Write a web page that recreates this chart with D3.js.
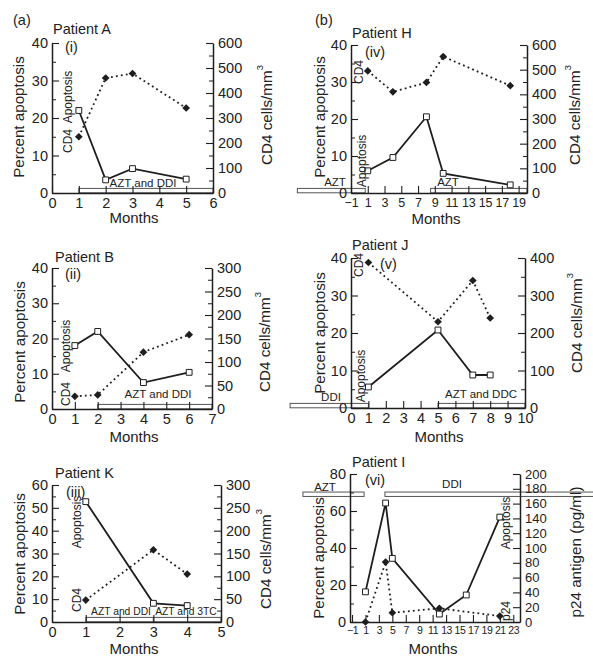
<!DOCTYPE html>
<html><head><meta charset="utf-8">
<script src="https://cdn.jsdelivr.net/npm/d3@7"></script>
<style>
body{margin:0;background:#fff}
svg{display:block}
text{font-family:"Liberation Sans",Arial,Helvetica,sans-serif;fill:#222}
</style>
</head><body>
<svg id="c" width="593" height="662"></svg>
<script>
// ---------- DATA ----------
// Patient A (i)
const monthsA = [1, 2, 3, 5];
const apoptosisA = [22, 3.5, 6.5, 3.7];
const cd4A = [225, 460, 478, 340];
const treatA = [{name: "AZT and DDI", start: 1, end: 6}];
// Patient B (ii)
const monthsB = [1, 2, 4, 6];
const apoptosisB = [18, 22, 7.5, 10.4];
const cd4B = [27, 30, 121, 158];
const treatB = [{name: "AZT and DDI", start: 2, end: 7}];
// Patient K (iii)
const monthsK = [1, 3, 4];
const apoptosisK = [52.7, 8.2, 7.2];
const cd4K = [48, 158, 105];
const treatK = [{name: "AZT and DDI", start: 1, end: 3}, {name: "AZT and 3TC", start: 3, end: 5}];
// Patient H (iv)
const monthsH = [1, 4, 8, 10, 18];
const apoptosisH = [6, 9.6, 20.6, 5.3, 2.2];
const cd4H = [495, 410, 448, 553, 435];
const treatH = [{name: "AZT", start: -7.4, end: 0.7}, {name: "AZT", start: 8.5, end: 20}];
// Patient J (v)
const monthsJ = [1, 5, 7, 8];
const apoptosisJ = [5.6, 20.8, 8.8, 8.8];
const cd4J = [388, 230, 340, 240];
const treatJ = [{name: "DDI", start: -3.5, end: 1}, {name: "AZT and DDC", start: 5, end: 10}];
// Patient I (vi)
const monthsIApop = [1, 4, 5, 12, 16, 21];
const apoptosisI = [16.3, 64.3, 34.4, 4.3, 14.6, 56.7];
const monthsIP24 = [1, 4, 5, 12, 21];
const p24I = [0, 81, 12.5, 18.5, 8];
const treatI = [{name: "AZT", start: -8.3, end: 0.8}, {name: "DDI", start: 3.9, end: 35}];

// ---------- DRAWING ----------
const svg = d3.select("#c");
const INK = "#1e1e1e";
const fmt = d3.format("d");

function vtext(x, y, str, size, sup) {
  const t = svg.append("text")
    .attr("transform", `translate(${x},${y}) rotate(-90)`)
    .attr("text-anchor", "middle")
    .attr("dominant-baseline", "central")
    .attr("font-size", size);
  t.append("tspan").text(str);
  if (sup) t.append("tspan").attr("font-size", size * 0.62).attr("dy", -size * 0.45).text(sup);
  return t;
}
function htext(x, y, str, size, anchor) {
  return svg.append("text").attr("x", x).attr("y", y)
    .attr("text-anchor", anchor || "start")
    .attr("dominant-baseline", "central")
    .attr("font-size", size).text(str);
}
function styleAxis(g, size) {
  g.attr("font-family", null).attr("font-size", size);
  g.selectAll("path.domain").attr("stroke", INK).attr("stroke-width", 1.5);
  g.selectAll(".tick line").attr("stroke", INK).attr("stroke-width", 1.1);
  g.selectAll("text").attr("fill", INK);
}

function panel(c) {
  const x = d3.scaleLinear().domain(c.xDomain).range([c.left, c.right]);
  const yL = d3.scaleLinear().domain(c.yLDomain).range([c.bottom, c.top]);
  const yR = d3.scaleLinear().domain(c.yRDomain).range([c.bottom, c.top]);

  // treatment bars
  c.treat.forEach(t => {
    const yb = c.barLevel == null ? c.bottom - 4.6 : yL(c.barLevel) - 2.3;
    svg.append("rect")
      .attr("x", x(t.start)).attr("y", yb)
      .attr("width", x(t.end) - x(t.start)).attr("height", 4.4)
      .attr("fill", "#fff").attr("stroke", "#555").attr("stroke-width", 1);
  });

  // minor ticks
  if (c.yLMinor) svg.append("g").attr("transform", `translate(${c.left},0)`)
    .call(d3.axisLeft(yL).tickValues(c.yLMinor).tickSizeInner(-4).tickSizeOuter(0).tickFormat(""))
    .call(g => { g.select("path.domain").remove(); g.selectAll("line").attr("stroke", INK); });
  if (c.yRMinor) svg.append("g").attr("transform", `translate(${c.right},0)`)
    .call(d3.axisRight(yR).tickValues(c.yRMinor).tickSizeInner(-4).tickSizeOuter(0).tickFormat(""))
    .call(g => { g.select("path.domain").remove(); g.selectAll("line").attr("stroke", INK); });

  // main axes
  svg.append("g").attr("transform", `translate(${c.left},0)`)
    .call(d3.axisLeft(yL).tickValues(c.yLTicks).tickFormat(fmt).tickSizeInner(-7).tickSizeOuter(0).tickPadding(4))
    .call(g => styleAxis(g, c.yLFont || 14.5));
  svg.append("g").attr("transform", `translate(${c.right},0)`)
    .call(d3.axisRight(yR).tickValues(c.yRTicks).tickFormat(fmt).tickSizeInner(-7).tickSizeOuter(0).tickPadding(5))
    .call(g => styleAxis(g, c.yRFont || 14.5));
  svg.append("g").attr("transform", `translate(0,${c.bottom})`)
    .call(d3.axisBottom(x).tickValues(c.xTicks).tickFormat(fmt).tickSizeInner(-7).tickSizeOuter(0).tickPadding(5))
    .call(g => styleAxis(g, c.xFont || 14.5))
    .call(g => { if (c.xSpacing) g.selectAll("text").attr("letter-spacing", c.xSpacing); });

  // series: apoptosis (solid, left axis) and CD4/p24 (dotted, right axis)
  const apo = c.apoM.map((m, i) => [m, c.apoV[i]]);
  const sec = c.secM.map((m, i) => [m, c.secV[i]]);
  svg.append("path").datum(sec)
    .attr("d", d3.line().x(d => x(d[0])).y(d => yR(d[1])))
    .attr("fill", "none").attr("stroke", INK).attr("stroke-width", 1.8)
    .attr("stroke-dasharray", "1.8,3.2");
  svg.append("path").datum(apo)
    .attr("d", d3.line().x(d => x(d[0])).y(d => yL(d[1])))
    .attr("fill", "none").attr("stroke", INK).attr("stroke-width", 1.8);
  svg.append("g").selectAll("path").data(sec).join("path")
    .attr("d", d3.symbol(d3.symbolSquare, 30)())
    .attr("transform", d => `translate(${x(d[0])},${yR(d[1])}) rotate(45)`)
    .attr("fill", INK);
  svg.append("g").selectAll("path").data(apo).join("path")
    .attr("d", d3.symbol(d3.symbolSquare, 34)())
    .attr("transform", d => `translate(${x(d[0])},${yL(d[1])})`)
    .attr("fill", "#fff").attr("stroke", INK).attr("stroke-width", 1);

  // texts
  htext(c.title[0], c.title[1], c.title[2], 14.5);
  htext(c.roman[0], c.roman[1], c.roman[2], 14.5);
  htext(c.monthsPos[0], c.monthsPos[1], "Months", 15, "middle");
  vtext(c.leftTitle[0], c.leftTitle[1], "Percent apoptosis", 15.2);
  vtext(c.rightTitle[0], c.rightTitle[1], c.rightTitle[2], 15.2, c.rightTitle[3]);
  c.vlabels.forEach(l => vtext(l[0], l[1], l[2], 12));
  c.tlabels.forEach(l => htext(l[0], l[1], l[2], c.tFont || 11.5, "middle"));
}

htext(13, 20, "(a)", 14.5);
htext(315, 20, "(b)", 14.5);

panel({
  left: 52, right: 213, top: 43, bottom: 193,
  xDomain: [0, 6], xTicks: d3.range(0, 7),
  yLDomain: [0, 40], yLTicks: d3.range(0, 41, 10), yLMinor: d3.range(5, 40, 10),
  yRDomain: [0, 600], yRTicks: d3.range(0, 601, 100), yRMinor: d3.range(50, 600, 100),
  apoM: monthsA, apoV: apoptosisA, secM: monthsA, secV: cd4A, treat: treatA,
  title: [53, 29, "Patient A"], roman: [65, 47, "(i)"],
  monthsPos: [134, 217], leftTitle: [18, 117], rightTitle: [266, 115, "CD4 cells/mm", "3"],
  vlabels: [[68, 97, "Apoptosis"], [68, 141, "CD4"]],
  tlabels: [[143, 183, "AZT and DDI"]]
});

panel({
  left: 52, right: 212, top: 268, bottom: 409,
  xDomain: [0, 7], xTicks: d3.range(0, 8),
  yLDomain: [0, 40], yLTicks: d3.range(0, 41, 10), yLMinor: d3.range(5, 40, 10),
  yRDomain: [0, 300], yRTicks: d3.range(0, 301, 50), yRMinor: d3.range(25, 300, 50),
  apoM: monthsB, apoV: apoptosisB, secM: monthsB, secV: cd4B, treat: treatB,
  title: [55, 257, "Patient B"], roman: [65, 274, "(ii)"],
  monthsPos: [134, 436], leftTitle: [19, 342], rightTitle: [264, 342, "CD4 cells/mm", "3"],
  vlabels: [[66, 346, "Apoptosis"], [66, 394, "CD4"]],
  tlabels: [[158, 394, "AZT and DDI"]]
});

panel({
  left: 52, right: 221, top: 485, bottom: 622,
  xDomain: [0, 5], xTicks: d3.range(0, 6),
  yLDomain: [0, 60], yLTicks: d3.range(0, 61, 10), yLMinor: d3.range(5, 60, 10),
  yRDomain: [0, 300], yRTicks: d3.range(0, 301, 50), yRMinor: d3.range(25, 300, 50),
  apoM: monthsK, apoV: apoptosisK, secM: monthsK, secV: cd4K, treat: treatK, tFont: 10.3,
  title: [55, 473, "Patient K"], roman: [66, 492, "(iii)"],
  monthsPos: [134, 648], leftTitle: [19, 554], rightTitle: [265, 559, "CD4 cells/mm", "3"],
  vlabels: [[77, 522, "Apoptosis"], [77, 600, "CD4"]],
  tlabels: [[121, 611, "AZT and DDI"], [186, 611, "AZT and 3TC"]]
});

panel({
  left: 351, right: 527, top: 45, bottom: 193,
  xDomain: [-1, 20], xTicks: d3.range(-1, 20, 2), xFont: 12.5,
  yLDomain: [0, 40], yLTicks: d3.range(0, 41, 10), yLMinor: d3.range(5, 40, 10),
  yRDomain: [0, 600], yRTicks: d3.range(0, 601, 100), yRMinor: d3.range(50, 600, 100),
  apoM: monthsH, apoV: apoptosisH, secM: monthsH, secV: cd4H, treat: treatH,
  title: [352, 33, "Patient H"], roman: [365, 52, "(iv)"],
  monthsPos: [436, 218], leftTitle: [319, 117], rightTitle: [574, 115, "CD4 cells/mm", "3"],
  vlabels: [[362, 161, "Apoptosis"], [359, 72, "CD4"]],
  tlabels: [[335, 182, "AZT"], [448, 182, "AZT"]]
});

panel({
  left: 351, right: 525, top: 258, bottom: 408,
  xDomain: [0, 10], xTicks: d3.range(0, 11),
  yLDomain: [0, 40], yLTicks: d3.range(0, 41, 10), yLMinor: d3.range(5, 40, 10),
  yRDomain: [0, 400], yRTicks: d3.range(0, 401, 100), yRMinor: d3.range(50, 400, 100),
  apoM: monthsJ, apoV: apoptosisJ, secM: monthsJ, secV: cd4J, treat: treatJ,
  title: [352, 245, "Patient J"], roman: [380, 264, "(v)"],
  monthsPos: [439, 436], leftTitle: [319, 333], rightTitle: [576, 323, "CD4 cells/mm", "3"],
  vlabels: [[361, 376, "Apoptosis"], [359, 265, "CD4"]],
  tlabels: [[331, 397, "DDI"], [481, 394, "AZT and DDC"]]
});

panel({
  left: 350, right: 520, top: 474, bottom: 622,
  xDomain: [-1.3, 24], xTicks: d3.range(-1, 24, 2), xFont: 10.5, xSpacing: -0.4,
  yLDomain: [0, 80], yLTicks: d3.range(0, 81, 20), yLMinor: d3.range(10, 80, 20),
  yRDomain: [0, 200], yRTicks: d3.range(0, 201, 20), yRFont: 13,
  apoM: monthsIApop, apoV: apoptosisI, secM: monthsIP24, secV: p24I, treat: treatI, barLevel: 69,
  title: [352, 462, "Patient I"], roman: [365, 480, "(vi)"],
  monthsPos: [433, 648], leftTitle: [318, 558], rightTitle: [575, 552, "p24 antigen (pg/ml)"],
  vlabels: [[506, 523, "Apoptosis"], [506, 611, "p24"]],
  tlabels: [[325, 487, "AZT"], [452, 484, "DDI"]]
});
</script>
</body></html>
